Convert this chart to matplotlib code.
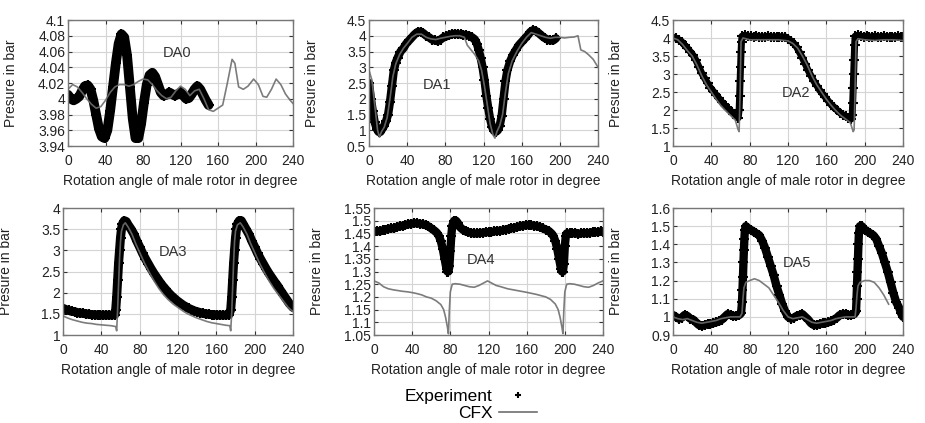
import matplotlib
matplotlib.use('Agg')
import matplotlib.pyplot as plt

plt.rcParams['font.family'] = ['Liberation Sans', 'DejaVu Sans']

# ---------------- data ----------------
# DA0
da0_exp_x = [0, 3, 6, 9, 12, 15, 18, 21, 24, 27, 30, 33, 36, 39, 42, 45, 48, 51, 54, 57,
             60, 63, 66, 69, 72, 75, 78, 81, 84, 87, 90, 93, 96, 99, 102, 105, 108, 111,
             114, 117, 120, 123, 126, 129, 132, 135, 138, 141, 144, 147, 150]
da0_exp_y = [4.005, 4.000, 3.998, 4.000, 4.003, 4.010, 4.016, 4.017, 4.012, 3.998, 3.980,
             3.962, 3.952, 3.950, 3.960, 3.985, 4.015, 4.045, 4.070, 4.082, 4.078, 4.055,
             4.015, 3.975, 3.950, 3.950, 3.968, 3.995, 4.018, 4.030, 4.033, 4.028, 4.018,
             4.008, 4.004, 4.005, 4.008, 4.006, 4.004, 4.006, 4.008, 4.004, 4.000, 4.001,
             4.006, 4.012, 4.016, 4.012, 4.005, 3.998, 3.992]
da0_cfx_x = [0, 5, 10, 15, 20, 25, 30, 35, 40, 45, 50, 55, 60, 65, 70, 75, 80, 85, 90, 95,
             100, 105, 110, 115, 120, 125, 130, 135, 140, 145, 150, 155, 160, 165, 170, 175,
             178, 182, 187, 192, 198, 203, 208, 212, 217, 222, 227, 232, 237, 240]
da0_cfx_y = [4.012, 4.018, 4.015, 4.008, 4.000, 3.993, 3.988, 3.990, 3.998, 4.008, 4.015,
             4.018, 4.018, 4.016, 4.018, 4.022, 4.025, 4.024, 4.018, 4.010, 4.004, 4.000,
             4.002, 4.010, 4.016, 4.012, 4.004, 4.010, 4.012, 4.000, 3.986, 3.984, 3.988,
             3.992, 4.020, 4.050, 4.045, 4.015, 4.012, 4.016, 4.025, 4.018, 4.003, 4.002,
             4.012, 4.025, 4.018, 4.006, 3.998, 3.994]

# DA1
da1_exp_x = [0, 2, 4, 6, 8, 10, 12, 14, 16, 18, 20, 22, 24, 26, 28, 30, 33, 36, 39, 42, 45,
             48, 51, 54, 57, 60, 63, 66, 69, 72, 75, 78, 81, 84, 87, 90, 93, 96, 99, 102,
             105, 108, 111, 113, 115, 117, 119, 121, 123, 125, 127, 129, 131, 133, 135,
             137, 139, 141, 143, 145, 148, 151, 154, 157, 160, 163, 166, 169, 172, 175,
             178, 181, 184, 187, 190, 193, 196]
da1_exp_y = [2.5, 2.0, 1.6, 1.25, 1.05, 0.95, 0.95, 1.05, 1.15, 1.3, 1.5, 1.9, 2.4, 2.9,
             3.15, 3.3, 3.5, 3.6, 3.75, 3.85, 3.95, 4.05, 4.12, 4.13, 4.08, 4.0, 3.95, 3.88,
             3.85, 3.83, 3.88, 3.95, 3.98, 4.02, 4.05, 4.06, 4.05, 4.04, 4.03, 4.02, 4.0,
             3.95, 3.88, 3.75, 3.55, 3.3, 3.0, 2.6, 2.1, 1.7, 1.35, 1.1, 0.98, 0.95, 1.0,
             1.15, 1.45, 2.0, 2.55, 2.9, 3.2, 3.4, 3.55, 3.7, 3.8, 3.9, 4.0, 4.12, 4.18,
             4.15, 4.08, 4.0, 3.93, 3.88, 3.85, 3.85, 3.92]
da1_cfx_x = [0, 3, 6, 9, 11, 13, 16, 19, 22, 25, 28, 32, 36, 40, 45, 50, 55, 60, 65, 70,
             75, 80, 85, 90, 95, 100, 103, 107, 111, 115, 118, 121, 124, 127, 130, 132,
             134, 137, 140, 143, 146, 150, 155, 160, 165, 170, 175, 180, 185, 190, 195,
             200, 205, 210, 215, 219, 222, 226, 230, 235, 240]
da1_cfx_y = [2.9, 2.6, 1.8, 1.0, 0.78, 0.95, 1.1, 1.4, 2.0, 2.7, 3.1, 3.4, 3.6, 3.75, 3.95,
             4.05, 4.05, 3.95, 3.9, 3.88, 3.92, 3.95, 3.98, 4.0, 4.0, 3.95, 3.7, 3.55, 3.4,
             3.2, 2.9, 2.4, 1.8, 1.2, 0.85, 0.75, 0.95, 1.15, 1.5, 2.2, 2.8, 3.2, 3.5,
             3.75, 3.95, 4.1, 4.05, 4.0, 3.95, 3.92, 3.95, 3.95, 3.93, 3.95, 3.96, 4.0,
             3.55, 3.5, 3.4, 3.25, 3.0]

# DA2
da2_exp_x = [0, 3, 6, 9, 12, 15, 18, 21, 24, 27, 30, 33, 36, 39, 42, 45, 48, 51, 54, 57, 60,
             63, 66, 68, 69, 69.5, 70, 70.5, 71, 71.5, 72, 75, 78, 81, 84, 87, 90, 93, 96,
             99, 102, 105, 108, 111, 114, 117, 120, 123, 126, 129, 132, 135, 138, 141, 144,
             147, 150, 153, 156, 159, 162, 165, 168, 171, 174, 177, 180, 183, 186, 187,
             187.5, 188, 188.5, 189, 189.5, 190, 193, 196, 199, 202, 205, 208, 211, 214,
             217, 220, 223, 226, 229, 232, 235, 238, 240]
da2_exp_y = [4.02, 4.0, 3.95, 3.9, 3.8, 3.72, 3.62, 3.52, 3.38, 3.2, 3.02, 2.88, 2.75, 2.62,
             2.52, 2.42, 2.32, 2.22, 2.13, 2.05, 1.98, 1.9, 1.82, 1.78, 2.0, 2.4, 2.8, 3.2,
             3.6, 3.9, 4.05, 4.08, 4.05, 4.05, 4.04, 4.05, 4.04, 4.03, 4.04, 4.05, 4.04,
             4.03, 4.04, 4.04, 4.03, 4.03, 3.98, 3.92, 3.85, 3.75, 3.6, 3.45, 3.28, 3.1,
             2.95, 2.8, 2.68, 2.55, 2.45, 2.35, 2.25, 2.15, 2.08, 2.0, 1.93, 1.87, 1.82,
             1.78, 1.75, 1.85, 2.2, 2.6, 3.0, 3.4, 3.8, 4.05, 4.08, 4.05, 4.04, 4.05, 4.03,
             4.04, 4.05, 4.03, 4.04, 4.05, 4.03, 4.04, 4.04, 4.03, 4.05, 4.04, 4.03]
da2_cfx_x = [0, 5, 10, 15, 20, 25, 30, 35, 40, 45, 50, 55, 60, 65, 68, 69, 70, 71, 73, 80,
             90, 100, 110, 120, 125, 130, 135, 140, 145, 150, 155, 160, 165, 170, 175, 180,
             185, 188, 189, 190, 191, 193, 200, 210, 220, 230, 240]
da2_cfx_y = [4.0, 3.95, 3.82, 3.65, 3.5, 3.25, 2.95, 2.7, 2.5, 2.3, 2.12, 1.98, 1.85, 1.72,
             1.45, 1.4, 2.5, 3.9, 4.0, 3.95, 3.95, 3.95, 3.95, 3.92, 3.85, 3.72, 3.5, 3.25,
             2.95, 2.7, 2.5, 2.3, 2.13, 1.98, 1.85, 1.75, 1.65, 1.4, 1.45, 2.6, 3.9, 3.98,
             3.95, 3.93, 3.95, 3.95, 3.93]

# DA3
da3_exp_x = [0, 3, 6, 9, 12, 15, 18, 21, 24, 27, 30, 33, 36, 39, 42, 45, 48, 51, 54, 55, 56,
             57, 58, 59, 60, 61, 62, 64, 66, 68, 71, 74, 77, 80, 83, 86, 89, 92, 95, 98,
             101, 104, 107, 110, 113, 116, 119, 122, 125, 128, 131, 134, 137, 140, 143, 146,
             149, 152, 155, 158, 161, 164, 167, 170, 173, 175, 176, 177, 178, 179, 180,
             181, 182, 184, 186, 188, 191, 194, 197, 200, 203, 206, 209, 212, 215, 218,
             221, 224, 227, 230, 233, 236, 240]
da3_exp_y = [1.63, 1.6, 1.58, 1.56, 1.55, 1.53, 1.52, 1.51, 1.5, 1.49, 1.48, 1.48, 1.47,
             1.47, 1.47, 1.47, 1.47, 1.47, 1.48, 1.6, 1.9, 2.3, 2.7, 3.0, 3.3, 3.5, 3.62,
             3.7, 3.68, 3.6, 3.5, 3.38, 3.22, 3.08, 2.93, 2.8, 2.68, 2.56, 2.45, 2.35, 2.25,
             2.16, 2.08, 2.0, 1.93, 1.87, 1.81, 1.76, 1.71, 1.67, 1.63, 1.6, 1.57, 1.55,
             1.53, 1.51, 1.5, 1.49, 1.48, 1.48, 1.47, 1.47, 1.47, 1.47, 1.48, 1.6, 1.9, 2.3,
             2.7, 3.0, 3.3, 3.5, 3.62, 3.7, 3.7, 3.62, 3.5, 3.38, 3.22, 3.08, 2.93, 2.8,
             2.68, 2.56, 2.45, 2.35, 2.25, 2.16, 2.05, 1.95, 1.85, 1.75, 1.65]
da3_cfx_x = [0, 5, 10, 15, 20, 25, 30, 35, 40, 45, 50, 55, 56, 57, 58, 59, 60, 61, 63, 65,
             68, 72, 76, 80, 85, 90, 95, 100, 105, 110, 115, 120, 125, 130, 135, 140, 145,
             150, 155, 160, 165, 170, 174, 175, 176, 177, 178, 179, 180, 182, 185, 188,
             192, 196, 200, 205, 210, 215, 220, 225, 230, 235, 240]
da3_cfx_y = [1.45, 1.4, 1.36, 1.33, 1.3, 1.28, 1.27, 1.25, 1.24, 1.23, 1.22, 1.2, 1.1, 1.6,
             2.2, 2.8, 3.2, 3.45, 3.6, 3.65, 3.55, 3.38, 3.15, 2.95, 2.7, 2.48, 2.28, 2.1,
             1.95, 1.83, 1.73, 1.65, 1.57, 1.5, 1.45, 1.4, 1.36, 1.32, 1.29, 1.27, 1.25,
             1.23, 1.22, 1.1, 1.5, 2.1, 2.7, 3.2, 3.45, 3.6, 3.65, 3.55, 3.38, 3.15, 2.95,
             2.7, 2.48, 2.28, 2.1, 1.95, 1.8, 1.65, 1.55]

# DA4
da4_exp_x = [0, 3, 6, 9, 12, 15, 18, 21, 24, 27, 30, 33, 36, 39, 42, 45, 48, 51, 54, 57, 60,
             63, 66, 68, 70, 72, 74, 76, 77, 78, 79, 80, 81, 82, 84, 86, 88, 90, 93, 96, 99,
             102, 105, 108, 111, 114, 117, 120, 123, 126, 129, 132, 135, 138, 141, 144, 147,
             150, 153, 156, 159, 162, 165, 168, 171, 174, 177, 180, 183, 186, 188, 190, 192,
             194, 196, 197, 198, 199, 200, 201, 202, 205, 208, 211, 214, 217, 220, 223, 226,
             229, 232, 235, 238, 240]
da4_exp_y = [1.455, 1.46, 1.458, 1.462, 1.465, 1.468, 1.47, 1.47, 1.475, 1.478, 1.48, 1.483,
             1.486, 1.488, 1.49, 1.49, 1.488, 1.486, 1.483, 1.478, 1.47, 1.462, 1.452, 1.44,
             1.42, 1.39, 1.35, 1.31, 1.3, 1.3, 1.32, 1.38, 1.44, 1.48, 1.5, 1.5, 1.49, 1.475,
             1.465, 1.458, 1.455, 1.452, 1.45, 1.45, 1.452, 1.452, 1.455, 1.455, 1.455,
             1.458, 1.46, 1.46, 1.462, 1.465, 1.468, 1.47, 1.472, 1.475, 1.478, 1.48, 1.482,
             1.483, 1.482, 1.48, 1.478, 1.475, 1.47, 1.465, 1.46, 1.45, 1.44, 1.42, 1.39,
             1.35, 1.31, 1.3, 1.3, 1.33, 1.4, 1.44, 1.45, 1.45, 1.45, 1.452, 1.448, 1.45,
             1.452, 1.45, 1.452, 1.455, 1.455, 1.455, 1.458, 1.455]
da4_cfx_x = [0, 5, 10, 15, 20, 25, 30, 35, 40, 45, 50, 55, 60, 65, 70, 73, 75, 77, 78, 79,
             80, 82, 85, 90, 95, 100, 105, 110, 115, 119, 123, 128, 133, 140, 150, 160, 170,
             180, 185, 190, 193, 195, 197, 198, 199, 200, 202, 205, 210, 215, 220, 225,
             230, 235, 240]
da4_cfx_y = [1.263, 1.255, 1.24, 1.232, 1.228, 1.225, 1.222, 1.22, 1.217, 1.213, 1.208,
             1.2, 1.195, 1.185, 1.17, 1.15, 1.12, 1.08, 1.055, 1.15, 1.22, 1.25, 1.252,
             1.25, 1.245, 1.24, 1.238, 1.245, 1.255, 1.263, 1.255, 1.245, 1.24, 1.232,
             1.225, 1.218, 1.21, 1.2, 1.19, 1.172, 1.15, 1.12, 1.08, 1.055, 1.15, 1.22,
             1.25, 1.252, 1.25, 1.245, 1.24, 1.238, 1.245, 1.255, 1.263]

# DA5
da5_exp_x = [0, 3, 6, 9, 12, 15, 18, 21, 24, 27, 30, 33, 36, 39, 42, 45, 48, 51, 54, 57, 60,
             63, 66, 69, 71, 72, 72.5, 73, 73.5, 74, 74.5, 75, 76, 78, 81, 84, 87, 90, 93,
             96, 99, 102, 105, 108, 111, 114, 117, 120, 123, 126, 129, 132, 135, 138, 141,
             144, 147, 150, 153, 156, 159, 162, 165, 168, 171, 174, 177, 180, 183, 186, 189,
             191, 191.5, 192, 192.5, 193, 193.5, 194, 195, 197, 200, 203, 206, 209, 212,
             215, 218, 221, 224, 227, 230, 233, 236, 238, 240]
da5_exp_y = [1.01, 1.0, 0.99, 0.995, 1.01, 1.005, 0.99, 0.985, 0.97, 0.955, 0.95, 0.955,
             0.96, 0.96, 0.965, 0.97, 0.975, 0.985, 1.0, 1.015, 1.01, 1.005, 1.005, 1.01,
             1.02, 1.08, 1.15, 1.22, 1.3, 1.37, 1.43, 1.48, 1.5, 1.49, 1.48, 1.47, 1.46,
             1.45, 1.42, 1.38, 1.33, 1.28, 1.23, 1.17, 1.12, 1.07, 1.03, 1.0, 0.99, 0.995,
             1.005, 1.01, 1.015, 1.0, 0.985, 0.965, 0.955, 0.955, 0.96, 0.965, 0.965, 0.97,
             0.975, 0.985, 0.995, 1.01, 1.015, 1.015, 1.01, 1.01, 1.015, 1.03, 1.1, 1.17,
             1.25, 1.32, 1.4, 1.46, 1.5, 1.5, 1.48, 1.47, 1.46, 1.45, 1.43, 1.39, 1.35, 1.3,
             1.25, 1.19, 1.13, 1.08, 1.05, 1.02, 1.0]
da5_cfx_x = [0, 5, 10, 15, 20, 25, 30, 35, 40, 45, 50, 55, 60, 65, 70, 72, 73, 74, 76, 80,
             85, 90, 95, 100, 105, 110, 115, 120, 125, 130, 135, 140, 145, 150, 155, 160,
             165, 170, 175, 180, 185, 190, 191, 192, 193, 195, 200, 205, 210, 215, 220, 225]
da5_cfx_y = [1.0, 0.99, 0.985, 0.99, 0.98, 0.97, 0.965, 0.97, 0.975, 0.98, 0.99, 0.995, 1.0,
             1.0, 1.0, 1.02, 1.1, 1.16, 1.19, 1.2, 1.21, 1.2, 1.18, 1.16, 1.12, 1.08, 1.035,
             1.0, 0.99, 0.995, 1.0, 0.985, 0.97, 0.965, 0.97, 0.975, 0.98, 0.99, 0.995, 1.0,
             1.0, 1.0, 1.05, 1.12, 1.17, 1.19, 1.2, 1.2, 1.19, 1.16, 1.12, 1.07]

names = ['DA0', 'DA1', 'DA2', 'DA3', 'DA4', 'DA5']
exp_x = [da0_exp_x, da1_exp_x, da2_exp_x, da3_exp_x, da4_exp_x, da5_exp_x]
exp_y = [da0_exp_y, da1_exp_y, da2_exp_y, da3_exp_y, da4_exp_y, da5_exp_y]
cfx_x = [da0_cfx_x, da1_cfx_x, da2_cfx_x, da3_cfx_x, da4_cfx_x, da5_cfx_x]
cfx_y = [da0_cfx_y, da1_cfx_y, da2_cfx_y, da3_cfx_y, da4_cfx_y, da5_cfx_y]
y_ticks = [[3.94, 3.96, 3.98, 4.0, 4.02, 4.04, 4.06, 4.08, 4.1],
           [0.5, 1, 1.5, 2, 2.5, 3, 3.5, 4, 4.5],
           [1, 1.5, 2, 2.5, 3, 3.5, 4, 4.5],
           [1, 1.5, 2, 2.5, 3, 3.5, 4],
           [1.05, 1.1, 1.15, 1.2, 1.25, 1.3, 1.35, 1.4, 1.45, 1.5, 1.55],
           [0.9, 1.0, 1.1, 1.2, 1.3, 1.4, 1.5, 1.6]]
x_ticks = [0, 40, 80, 120, 160, 200, 240]
label_pos = [(116, 4.058), (71, 2.43), (128, 2.46), (115, 2.96), (112, 1.346), (129, 1.297)]

# ---------------- layout (pixels of the 925x423 picture) ----------------
W, H = 925, 423
boxes = [(68, 293, 20, 146), (369, 598, 20, 146), (673, 903, 20, 146),
         (63, 293, 208, 335), (374, 603, 208, 335), (673, 903, 208, 335)]
# width of the dense band formed by the overlapping '+' markers
band = [7, 6, 5, 6.5, 6, 6]

fig = plt.figure(figsize=(9.25, 4.23), dpi=100)

grey = '#6e6e6e'
for i in range(6):
    l, r, t, b = boxes[i]
    ax = fig.add_axes([l / W, 1 - b / H, (r - l) / W, (b - t) / H])
    ax.plot(exp_x[i], exp_y[i], color='black', lw=band[i], solid_joinstyle='round',
            solid_capstyle='round', marker='+', ms=7, mew=1.5, zorder=2)
    ax.plot(cfx_x[i], cfx_y[i], color=grey, lw=1.2, zorder=3, alpha=0.9)
    ax.set_xlim(0, 240)
    ax.set_ylim(y_ticks[i][0], y_ticks[i][-1])
    ax.set_xticks(x_ticks)
    ax.set_yticks(y_ticks[i])
    ax.set_yticklabels(['%g' % v for v in y_ticks[i]])
    ax.grid(True, color='#d4d4d4', lw=0.8)
    ax.set_axisbelow(True)
    ax.tick_params(direction='in', length=3, top=True, right=True, labelsize=10,
                   colors='#333333', labelcolor='#222222')
    ax.tick_params(axis='x', pad=6)
    ax.tick_params(axis='y', pad=2)
    for s in ax.spines.values():
        s.set_color('#777777')
        s.set_linewidth(1.0)
    ax.set_xlabel('Rotation angle of male rotor in degree', fontsize=10,
                  color='#222222', labelpad=4)
    ax.set_ylabel('Presure in bar', fontsize=10, color='#222222')
    ax.yaxis.set_label_coords(-50.0 / (r - l), 0.5)
    ax.text(label_pos[i][0], label_pos[i][1], names[i], fontsize=10.5,
            color='#333333', ha='center', va='center')
    if i == 0:
        h_exp, = ax.plot([], [], ls='none', marker='+', color='black', ms=5, mew=1.5,
                         label='Experiment')
        h_cfx, = ax.plot([], [], color=grey, lw=1.2, label='CFX')

fig.legend(handles=[h_exp, h_cfx], loc='center', bbox_to_anchor=(471 / W, 1 - 405 / H),
           frameon=False, markerfirst=False, fontsize=12.5, handlelength=2.2,
           handletextpad=0.4, labelspacing=0.1, borderpad=0)

fig.savefig('out.png', dpi=100, facecolor='white')
